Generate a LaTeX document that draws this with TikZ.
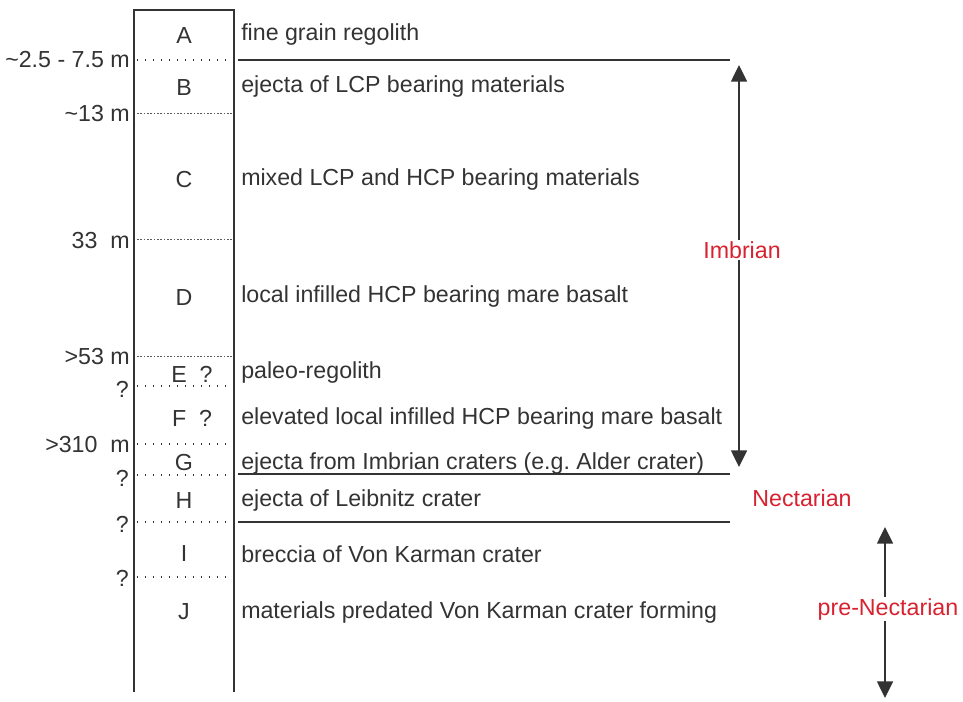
\documentclass[tikz,border=0pt]{standalone}
\usepackage{fontspec}
\setmainfont{Liberation Sans}
\usetikzlibrary{arrows.meta, positioning}
\definecolor{inkgray}{HTML}{333333}
\definecolor{periodred}{HTML}{D8222F}

\begin{document}
\begin{tikzpicture}[x=0.75pt, y=-0.75pt, font=\fontsize{17.4}{20}\selectfont,
  layer/.style={text=inkgray, inner sep=0pt, yshift=-1.5pt},
  desc/.style={text=inkgray, anchor=west, inner sep=0pt, yshift=-1.5pt},
  depth/.style={text=inkgray, anchor=east, inner sep=0pt, yshift=-1pt},
  bound/.style={inkgray, line width=1pt, dash pattern=on 1pt off 5pt},
  fineb/.style={inkgray!80, line width=0.7pt, dash pattern=on 1.2pt off 1.3pt},
  contact/.style={inkgray, line width=1pt},
  period/.style={text=periodred, fill=white, inner sep=1pt},
  span/.style={inkgray, line width=1.1pt, {Triangle[length=12.5pt,width=12pt]}-{Triangle[length=12.5pt,width=12pt]}}]
\useasboundingbox (0,0) rectangle (963,702);

% column
\draw[contact] (134,692) -- (134,10) -- (234,10) -- (234,692);

% boundaries inside the column
\draw[bound] (137,60) -- (232,60);
\draw[fineb] (137,113) -- (232,113);
\draw[fineb] (137,239) -- (232,239);
\draw[fineb] (137,356) -- (232,356);
\draw[bound] (137,386) -- (232,386);
\draw[bound] (137,444) -- (232,444);
\draw[bound] (137,475) -- (232,475);
\draw[bound] (137,522) -- (232,522);
\draw[bound] (137,577) -- (232,577);

% depths
\node[depth] (dA) at (130,58) {\textasciitilde2.5 - 7.5 m};
\node[depth] (dB) at (130,112) {\textasciitilde13 m};
\node[depth] (dC) at (130,239) {33\ \ m};
\node[depth] (dD) at (130,355) {>53 m};
\node[depth] (dE) at (129,388) {?};
\node[depth] (dF) at (130,443) {>310\ \ m};
\node[depth] (dG) at (129,477) {?};
\node[depth] (dH) at (129,523) {?};
\node[depth] (dI) at (129,577) {?};

% layers
\node[layer] (lA) at (184,34) {A};
\node[layer] (lB) at (184,86) {B};
\node[layer] (lC) at (184,178) {C};
\node[layer] (lD) at (184,296) {D};
\node[layer] (lE) at (192,372) {E\ \ ?};
\node[layer] (lF) at (192,416) {F\ \ ?};
\node[layer] (lG) at (184,461) {G};
\node[layer] (lH) at (184,499) {H};
\node[layer] (lI) at (184,552) {I};
\node[layer] (lJ) at (184,610) {J};

% descriptions
\node[desc] (tA) at (241,33) {fine grain regolith};
\node[desc] (tB) at (241,85) {ejecta of LCP bearing materials};
\node[desc] (tC) at (241,178) {mixed LCP and HCP bearing materials};
\node[desc] (tD) at (241,295) {local infilled HCP bearing mare basalt};
\node[desc] (tE) at (241,371) {paleo-regolith};
\node[desc] (tF) at (241,416) {elevated local infilled HCP bearing mare basalt};
\node[desc] (tG) at (241,461) {ejecta from Imbrian craters (e.g.\ Alder crater)};
\node[desc] (tH) at (241,498) {ejecta of Leibnitz crater};
\node[desc] (tI) at (241,552) {breccia of Von Karman crater};
\node[desc] (tJ) at (241,610) {materials predated Von Karman crater forming};

% period limits
\draw[contact] (238,60) -- (730,60);
\draw[contact] (238,474) -- (730,474);
\draw[contact] (238,522) -- (730,522);

% periods
\coordinate (imbTop) at (739,65);
\coordinate (imbBot) at (739,467);
\draw[span] (imbTop) -- (imbBot);
\node[period] (imbrian) at (742,250) {Imbrian};
\node[period] (nectarian) at (802,498) {Nectarian};
\coordinate (preTop) at (885,527);
\coordinate (preBot) at (885,698);
\draw[span] (preTop) -- (preBot);
\node[period] (preNect) at (888,609) {pre-Nectarian};
\end{tikzpicture}
\end{document}
